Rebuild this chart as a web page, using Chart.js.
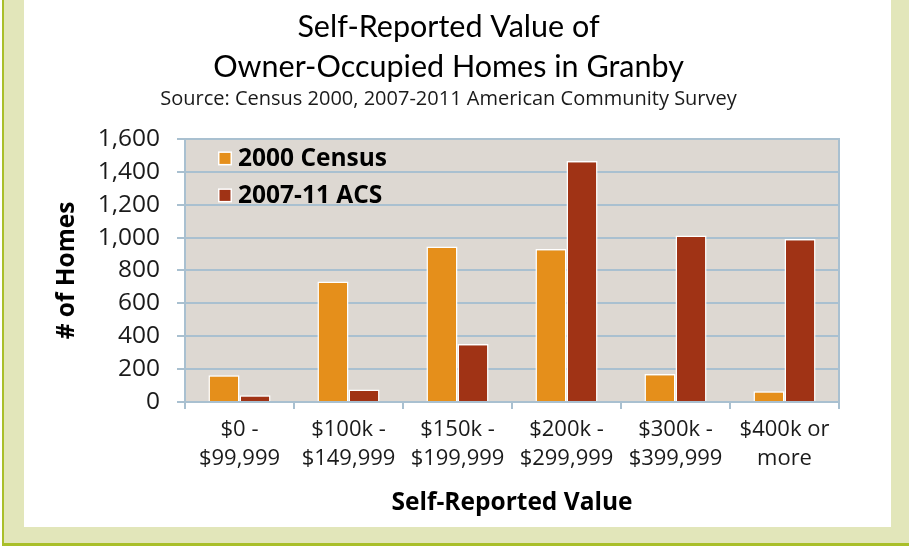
<!DOCTYPE html>
<html>
<head>
<meta charset="utf-8">
<script src="https://cdn.jsdelivr.net/npm/chart.js@4"></script>
<style>
  html, body { margin: 0; padding: 0; background: #ffffff; }
  body { width: 909px; height: 547px; position: relative; overflow: hidden; }
  #frame { position: absolute; left: 2px; top: 0; width: 907px; height: 546px;
           background: #e2e6ba; border-left: 2px solid #a9bf2a; border-bottom: 3px solid #a9bf2a; box-sizing: border-box; }
  #panel { position: absolute; left: 24px; top: 0; width: 867px; height: 527px; background: #ffffff; }
  canvas { display: block; }
</style>
</head>
<body>
<div id="frame"></div>
<div id="panel"><canvas id="c" width="867" height="527"></canvas></div>
<script>
const categories = [
  ["$0 -", "$99,999"],
  ["$100k -", "$149,999"],
  ["$150k -", "$199,999"],
  ["$200k -", "$299,999"],
  ["$300k -", "$399,999"],
  ["$400k or", "more"]
];
const census2000 = [163, 733, 945, 931, 170, 65];
const acs2007_11 = [41, 76, 352, 1466, 1012, 992];
const seriesNames = ["2000 Census", "2007-11 ACS"];
const seriesColors = ["#e58f1b", "#a03315"];
const titleLines = ["Self-Reported Value of", "Owner-Occupied Homes in Granby"];
const subtitleText = "Source: Census 2000, 2007-2011 American Community Survey";
const yTitle = "# of Homes";
const xTitle = "Self-Reported Value";

const gridColor = "#a9c0d0";

const plotBg = {
  id: 'plotBg',
  beforeDraw(chart) {
    const {ctx, chartArea: a} = chart;
    ctx.save();
    ctx.fillStyle = '#ddd8d2';
    ctx.fillRect(a.left, a.top, a.right - a.left, a.bottom - a.top);
    ctx.restore();
  }
};

const insideLegend = {
  id: 'insideLegend',
  afterDatasetsDraw(chart) {
    const {ctx, chartArea: a} = chart;
    ctx.save();
    ctx.font = 'bold 24.5px "Open Sans"';
    ctx.textBaseline = 'middle';
    ctx.textAlign = 'left';
    chart.data.datasets.forEach((ds, i) => {
      const cy = a.top + 19.5 + i * 37;
      const bx = a.left + 33;
      ctx.fillStyle = '#ffffff';
      ctx.fillRect(bx, cy - 7, 14, 14);
      ctx.fillStyle = ds.backgroundColor;
      ctx.fillRect(bx + 1.5, cy - 5.5, 11, 11);
      ctx.fillStyle = '#000000';
      ctx.fillText(ds.label, bx + 20, cy + 1);
    });
    ctx.restore();
  }
};

new Chart(document.getElementById('c'), {
  type: 'bar',
  data: {
    labels: categories,
    datasets: [
      { label: seriesNames[0], data: census2000, backgroundColor: seriesColors[0], borderColor: '#ffffff', borderWidth: 1.5, yAxisID: 'y' },
      { label: seriesNames[1], data: acs2007_11, backgroundColor: seriesColors[1], borderColor: '#ffffff', borderWidth: 1.5, yAxisID: 'y' }
    ]
  },
  options: {
    responsive: false,
    devicePixelRatio: 1,
    animation: false,
    layout: { padding: { left: 0, right: 18, top: 0, bottom: 0 } },
    datasets: { bar: { categoryPercentage: 0.57, barPercentage: 1.0 } },
    plugins: {
      legend: { display: false },
      tooltip: { enabled: false },
      title: {
        display: true,
        text: titleLines,
        color: '#000000',
        font: { family: 'Lato', size: 30.5, weight: 'normal', lineHeight: 1.31 },
        padding: { top: 7, bottom: 0 }
      },
      subtitle: {
        display: true,
        text: subtitleText,
        color: '#1a1a1a',
        font: { family: '"Open Sans"', size: 20, weight: 'normal', lineHeight: 1.2 },
        padding: { top: 0, bottom: 28 }
      }
    },
    scales: {
      x: {
        grid: { display: true, drawOnChartArea: false, drawTicks: true, tickLength: 7, color: gridColor, lineWidth: 2 },
        border: { display: true, color: gridColor, width: 2 },
        ticks: { color: '#1a1a1a', font: { family: '"Open Sans"', size: 22, lineHeight: 1.32 }, padding: 6, maxRotation: 0, autoSkip: false },
        title: { display: true, text: xTitle, color: '#000000', font: { family: '"Open Sans"', size: 24.5, weight: 'bold', lineHeight: 1.2 }, padding: { top: 0, bottom: 9 } },
        afterFit(scale) { scale.height = 125; }
      },
      y: {
        min: 0, max: 1600,
        ticks: { stepSize: 200, color: '#1a1a1a', font: { family: '"Open Sans"', size: 24.5 }, padding: 17 },
        grid: { color: gridColor, lineWidth: 2, tickLength: 8, drawTicks: true },
        border: { display: true, color: gridColor, width: 2 },
        title: { display: true, text: yTitle, color: '#000000', font: { family: '"Open Sans"', size: 24.5, weight: 'bold', lineHeight: 1.2 }, padding: { top: 28, bottom: 0 } },
        afterFit(scale) { scale.width = 161; }
      },
      y2: {
        position: 'right',
        min: 0, max: 1,
        grid: { display: false, drawOnChartArea: false },
        ticks: { display: false },
        border: { display: true, color: gridColor, width: 2 },
        afterFit(scale) { scale.width = 34; }
      }
    }
  },
  plugins: [plotBg, insideLegend]
});
</script>
</body>
</html>
